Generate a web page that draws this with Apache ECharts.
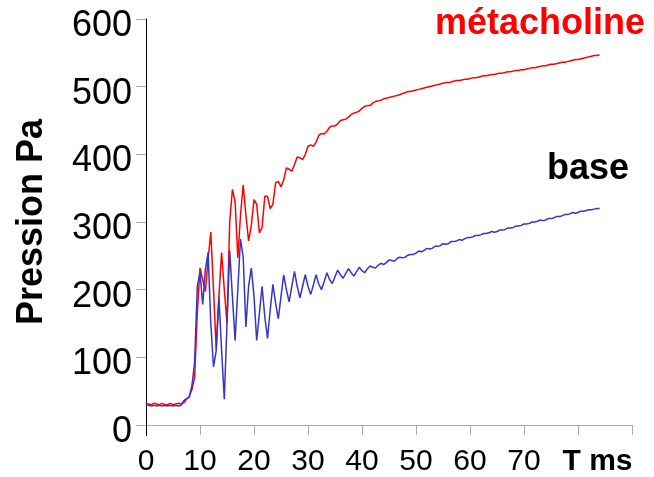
<!DOCTYPE html>
<html>
<head>
<meta charset="utf-8">
<script src="https://cdn.jsdelivr.net/npm/echarts@6/dist/echarts.min.js"></script>
<style>
  html, body { margin: 0; padding: 0; background: #fff; }
  #chart { width: 654px; height: 477px; }
</style>
</head>
<body>
<div id="chart"></div>
<script>
// Pressure traces sampled every 0.5 ms, from 0 to 84 ms
const SAMPLE_STEP_MS = 0.5;

// Baseline recording (blue)
const baseValues = [
  30, 29, 28, 29, 28, 29, 28, 29, 28, 29, 28, 29, 28, 29,
  36, 39, 41, 58, 92, 205, 226, 178, 230, 255, 150, 86,
  110, 190, 110, 38, 150, 258, 190, 125, 200, 275, 248, 145,
  205, 232, 190, 125, 165, 205, 160, 128, 170, 208, 180, 157,
  190, 222, 200, 182, 205, 227, 205, 188, 205, 222, 205, 193,
  207, 222, 208, 200, 212, 225, 215, 209, 219, 229, 222, 217,
  224, 231, 225, 220, 227, 233, 228, 225, 231, 235, 233, 232,
  236, 239, 237, 240, 244, 243, 242, 246, 248, 247, 248, 251,
  252, 252, 254, 257, 256, 258, 261, 260, 261, 264, 264, 265,
  268, 267, 268, 271, 271, 272, 274, 273, 275, 277, 277, 278,
  280, 280, 281, 283, 283, 284, 286, 285, 286, 288, 288, 289,
  291, 291, 292, 294, 294, 295, 297, 297, 298, 300, 300, 301,
  303, 302, 303, 305, 305, 306, 308, 308, 309, 311, 311, 312,
  314, 313, 314, 316, 316, 317, 318, 318, 319, 320, 320
];

// Recording after methacholine (red)
const methaValues = [
  31, 31, 30, 32, 31, 30, 32, 30, 30, 32, 30, 31, 32, 31,
  33, 38, 42, 52, 70, 165, 232, 215, 197, 245, 285, 200,
  112, 190, 255, 200, 150, 300, 348, 330, 247, 310, 355, 310,
  272, 295, 333, 326, 284, 292, 338, 338, 320, 326, 358, 360,
  352, 362, 380, 378, 375, 385, 396, 395, 392, 400, 412, 414,
  412, 418, 428, 431, 430, 434, 440, 442, 442, 445, 450, 451,
  452, 455, 459, 461, 462, 464, 468, 471, 472, 472, 476, 478,
  479, 480, 482, 483, 484, 485, 486, 487, 488, 490, 491, 493,
  493, 494, 495, 496, 497, 498, 499, 500, 501, 502, 503, 504,
  505, 506, 506, 507, 508, 509, 509, 510, 511, 511, 512, 513,
  513, 514, 515, 516, 516, 517, 518, 518, 519, 520, 520, 521,
  522, 522, 523, 524, 524, 525, 525, 526, 527, 528, 528, 529,
  530, 531, 531, 532, 533, 533, 534, 535, 536, 536, 537, 538,
  539, 540, 540, 541, 542, 543, 544, 545, 546, 546, 547
];

// Axis ticks
const xTicks = [0, 10, 20, 30, 40, 50, 60, 70, 80, 90];
const yTicks = [0, 100, 200, 300, 400, 500, 600];
const xUnitLabel = 'T ms';
const yAxisTitle = 'Pression Pa';
const methaLabel = 'métacholine';
const baseLabel = 'base';

function toPairs(values) {
  return values.map((v, i) => [i * SAMPLE_STEP_MS, v]);
}

const FONT = '"Liberation Sans", Arial, sans-serif';
const chart = echarts.init(document.getElementById('chart'), null, { renderer: 'canvas' });

const xRange = { min: xTicks[0], max: xTicks[xTicks.length - 1], interval: 10 };

chart.setOption({
  animation: false,
  backgroundColor: '#ffffff',
  grid: { left: 146, right: 22, top: 19, bottom: 51, containLabel: false },
  xAxis: [
    {
      type: 'value',
      min: xRange.min,
      max: xRange.max,
      interval: xRange.interval,
      splitLine: { show: false },
      axisLine: { show: true, onZero: false, lineStyle: { color: '#aaaaaa', width: 1 } },
      axisTick: { show: true, length: 10, lineStyle: { color: '#aaaaaa', width: 1 } },
      axisLabel: {
        margin: 22,
        color: '#000',
        fontFamily: FONT,
        fontSize: 30,
        formatter: function (v) {
          if (v === 80) return '{u|' + xUnitLabel + '}';
          if (v === 90) return '';
          return String(v);
        },
        rich: {
          u: { fontFamily: FONT, fontSize: 30, fontWeight: 'bold', color: '#000', padding: [0, 0, 0, 39] }
        }
      }
    },
    {
      // continues the black vertical axis below the origin
      type: 'value',
      position: 'bottom',
      min: xRange.min,
      max: xRange.max,
      interval: xRange.interval,
      splitLine: { show: false },
      axisLine: { show: false, onZero: false },
      axisLabel: { show: false },
      axisTick: { show: true, length: 11, customValues: [xTicks[0]], lineStyle: { color: '#000', width: 1 } }
    }
  ],
  yAxis: {
    type: 'value',
    min: yTicks[0],
    max: yTicks[yTicks.length - 1],
    interval: 100,
    name: yAxisTitle,
    nameLocation: 'middle',
    nameRotate: 90,
    nameGap: 96,
    nameTextStyle: { fontFamily: FONT, fontSize: 36, fontWeight: 'bold', color: '#000' },
    splitLine: { show: false },
    axisLine: { show: true, lineStyle: { color: '#000', width: 1 } },
    axisTick: { show: true, length: 10, lineStyle: { color: '#aaaaaa', width: 1 } },
    axisLabel: {
      margin: 14,
      color: '#000',
      fontFamily: FONT,
      fontSize: 36,
      formatter: function (v) { return '{n|' + v + '}'; },
      rich: {
        n: { fontFamily: FONT, fontSize: 36, color: '#000', padding: [14, 0, 0, 0] }
      }
    }
  },
  graphic: [
    {
      type: 'text',
      left: 435, top: 6,
      style: { text: methaLabel, fill: '#ff0000', font: 'bold 36px ' + FONT }
    },
    {
      type: 'text',
      left: 547, top: 151,
      style: { text: baseLabel, fill: '#000000', font: 'bold 36px ' + FONT }
    }
  ],
  series: [
    {
      name: methaLabel,
      type: 'line',
      xAxisIndex: 0,
      data: toPairs(methaValues),
      showSymbol: false,
      lineStyle: { color: '#ff0000', width: 1.5 },
      itemStyle: { color: '#ff0000' }
    },
    {
      name: baseLabel,
      type: 'line',
      xAxisIndex: 0,
      data: toPairs(baseValues),
      showSymbol: false,
      lineStyle: { color: '#3535cc', width: 1.5 },
      itemStyle: { color: '#3535cc' }
    }
  ]
});
</script>
</body>
</html>
